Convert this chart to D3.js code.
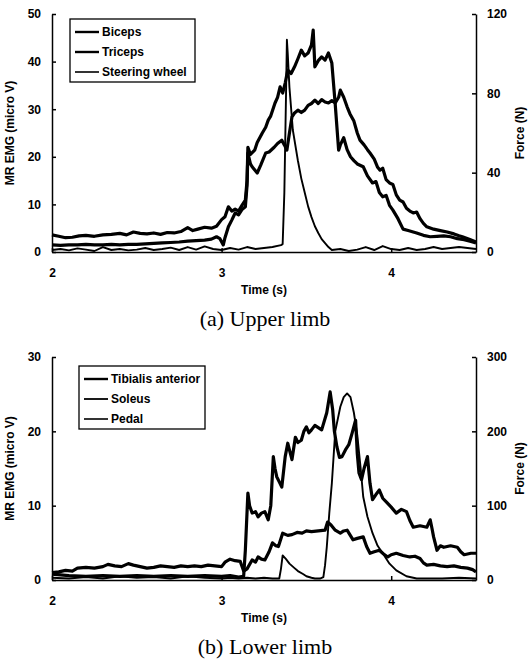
<!DOCTYPE html>
<html>
<head>
<meta charset="utf-8">
<script src="https://cdn.jsdelivr.net/npm/d3@7"></script>
<style>
  body { margin: 0; background: #fff; }
  svg { display: block; }
  .tick text, .lbl { font-family: "Liberation Sans", Arial, sans-serif; font-weight: bold; fill: #000; }
  .cap { font-family: "Liberation Serif", "Times New Roman", serif; fill: #000; }
</style>
</head>
<body>
<div id="chart"></div>
<script>
// --- data: [time (s), value] ---
const timeTicks = [2, 3, 4];

const upperEmgTicks = [0, 10, 20, 30, 40, 50];
const upperForceTicks = [0, 40, 80, 120];
const upperLegend = ['Biceps', 'Triceps', 'Steering wheel'];

const biceps = [
  [2.00, 3.6], [2.04, 3.3], [2.08, 3.0], [2.12, 3.1], [2.16, 3.4], [2.20, 3.5], [2.25, 3.3], [2.30, 3.6],
  [2.35, 3.7], [2.40, 3.9], [2.44, 3.6], [2.48, 4.2], [2.52, 3.9], [2.56, 3.8], [2.60, 4.0], [2.64, 3.7],
  [2.68, 4.1], [2.72, 4.0], [2.76, 4.3], [2.80, 5.1], [2.83, 4.5], [2.86, 4.8], [2.90, 5.2], [2.94, 5.0],
  [2.97, 5.4], [3.00, 6.8], [3.02, 7.4], [3.04, 9.5], [3.06, 8.6], [3.08, 9.0], [3.10, 8.6], [3.12, 9.8],
  [3.14, 10.9], [3.15, 15], [3.155, 22], [3.17, 20.5], [3.195, 21.4], [3.21, 23], [3.24, 25], [3.26, 26.2],
  [3.275, 27.7], [3.29, 28.6], [3.315, 31.3], [3.33, 32.5], [3.345, 34.7], [3.36, 33.4], [3.375, 35.5],
  [3.39, 38.2], [3.41, 37.5], [3.43, 38.9], [3.45, 40.6], [3.47, 42.4], [3.49, 41.2], [3.51, 41.8],
  [3.53, 43.5], [3.54, 46.6], [3.55, 38.9], [3.57, 40.2], [3.59, 41], [3.61, 40.3], [3.63, 41.8],
  [3.65, 39.7], [3.67, 31], [3.69, 21.4], [3.70, 22.5], [3.72, 24], [3.74, 21.5], [3.76, 20], [3.78, 19.2],
  [3.80, 18.5], [3.835, 17.9], [3.86, 16.0], [3.89, 14.5], [3.91, 14.8], [3.93, 12.5], [3.95, 11.6],
  [3.97, 11.9], [3.99, 9.8], [4.01, 8.8], [4.04, 7.0], [4.07, 4.8], [4.10, 4.5], [4.13, 4.2], [4.15, 4.0],
  [4.19, 3.5], [4.23, 3.2], [4.27, 3.3], [4.31, 3.4], [4.35, 3.2], [4.39, 2.8], [4.43, 2.6], [4.47, 2.2],
  [4.50, 1.9]
];

const triceps = [
  [2.00, 1.5], [2.05, 1.4], [2.10, 1.5], [2.15, 1.5], [2.20, 1.6], [2.25, 1.5], [2.30, 1.5], [2.35, 1.6],
  [2.40, 1.5], [2.45, 1.6], [2.50, 1.6], [2.55, 1.7], [2.60, 1.8], [2.65, 1.9], [2.70, 2.0], [2.75, 2.1],
  [2.80, 2.3], [2.85, 2.4], [2.90, 2.5], [2.94, 2.7], [2.97, 3.2], [2.99, 2.8], [3.01, 1.5], [3.02, 3.0],
  [3.04, 5.3], [3.06, 6.7], [3.08, 8.2], [3.10, 7.8], [3.12, 8.9], [3.14, 9.5], [3.15, 14], [3.155, 20.8],
  [3.17, 18.5], [3.18, 17.9], [3.21, 16.6], [3.23, 18.2], [3.26, 20.8], [3.28, 21], [3.31, 22], [3.33, 22.8],
  [3.355, 23.5], [3.37, 22.5], [3.385, 21.4], [3.40, 25], [3.415, 28.4], [3.43, 29.2], [3.45, 29.8],
  [3.47, 29.3], [3.49, 29.8], [3.51, 30.8], [3.53, 31.2], [3.55, 31.9], [3.57, 31.2], [3.59, 32],
  [3.61, 31.5], [3.63, 31.3], [3.65, 31.8], [3.67, 31.3], [3.69, 32.5], [3.70, 34], [3.72, 32.5],
  [3.74, 30.5], [3.757, 29], [3.78, 27.5], [3.80, 25], [3.816, 23.5], [3.84, 22.5], [3.86, 21.5],
  [3.875, 20.8], [3.90, 19.5], [3.92, 17.8], [3.934, 17.2], [3.95, 17.6], [3.97, 15.2], [3.99, 14.5],
  [4.01, 14.2], [4.03, 12.0], [4.05, 10.9], [4.07, 10.5], [4.09, 9.2], [4.11, 8.6], [4.13, 8.2],
  [4.15, 8.4], [4.17, 7.0], [4.19, 6.0], [4.21, 5.3], [4.25, 4.8], [4.29, 4.5], [4.33, 4.2], [4.37, 3.8],
  [4.40, 3.4], [4.42, 3.2], [4.46, 2.7], [4.50, 2.1]
];

const steeringForce = [
  [2.00, 1.0], [2.05, 1.5], [2.10, 0.8], [2.15, 1.8], [2.20, 1.2], [2.25, 0.5], [2.30, 2.5], [2.35, 1.0],
  [2.40, 1.5], [2.45, 0.8], [2.50, 1.2], [2.55, 2.0], [2.60, 1.0], [2.65, 1.5], [2.70, 2.2], [2.75, 1.0],
  [2.80, 2.5], [2.85, 1.2], [2.90, 2.8], [2.95, 1.5], [3.00, 1.0], [3.05, 2.0], [3.10, 1.2], [3.15, 2.5],
  [3.20, 1.5], [3.25, 2.0], [3.30, 2.5], [3.35, 3.5], [3.36, 4.0], [3.37, 30], [3.38, 80], [3.385, 107],
  [3.39, 100], [3.40, 83], [3.42, 61.5], [3.45, 46], [3.47, 37], [3.49, 30], [3.51, 23], [3.53, 17.6],
  [3.55, 13], [3.57, 9.6], [3.59, 6.5], [3.61, 4.5], [3.63, 2.5], [3.65, 1.0], [3.70, 1.5], [3.75, 0.5],
  [3.80, 1.2], [3.85, 2.5], [3.90, 1.0], [3.95, 3.0], [4.00, 1.5], [4.05, 1.0], [4.10, 2.0], [4.15, 1.0],
  [4.20, 1.5], [4.25, 2.5], [4.30, 1.5], [4.35, 2.0], [4.40, 2.5], [4.45, 2.0], [4.50, 1.5]
];

const lowerEmgTicks = [0, 10, 20, 30];
const lowerForceTicks = [0, 100, 200, 300];
const lowerLegend = ['Tibialis anterior', 'Soleus', 'Pedal'];

const tibialis = [
  [2.00, 0.8], [2.10, 0.6], [2.20, 0.5], [2.30, 0.6], [2.40, 0.5], [2.50, 0.6], [2.60, 0.5], [2.70, 0.6],
  [2.80, 0.5], [2.90, 0.6], [3.00, 0.5], [3.05, 0.6], [3.10, 0.4], [3.13, 0.5], [3.14, 4], [3.155, 11.7],
  [3.165, 10], [3.18, 9.0], [3.20, 9.2], [3.215, 8.5], [3.235, 9.0], [3.255, 9.2], [3.275, 8.1], [3.29, 10],
  [3.305, 16.6], [3.315, 15], [3.325, 13.9], [3.34, 13.2], [3.355, 12.5], [3.375, 16.6], [3.39, 18.4],
  [3.40, 17.5], [3.415, 16.2], [3.435, 19.2], [3.45, 18.5], [3.47, 18.8], [3.485, 20], [3.50, 20.6],
  [3.515, 19.8], [3.53, 20.2], [3.55, 20.8], [3.57, 20.5], [3.59, 20.2], [3.62, 22.5], [3.64, 25.3],
  [3.655, 22.9], [3.665, 20], [3.68, 17.9], [3.695, 16.5], [3.71, 16.6], [3.73, 17.5], [3.75, 18.2],
  [3.77, 19.8], [3.79, 21.5], [3.80, 17], [3.81, 14.4], [3.825, 13.5], [3.84, 15], [3.86, 16.6],
  [3.875, 13], [3.89, 10.8], [3.91, 11.5], [3.93, 12.1], [3.95, 11], [3.975, 10.4], [4.00, 9.8],
  [4.03, 9.0], [4.06, 9.5], [4.09, 9.2], [4.11, 8.0], [4.13, 7.1], [4.17, 7.3], [4.21, 7.1], [4.23, 8.1],
  [4.24, 7], [4.25, 5.8], [4.27, 4.0], [4.29, 4.6], [4.31, 4.4], [4.35, 4.6], [4.39, 4.4], [4.41, 3.8],
  [4.43, 3.4], [4.47, 3.6], [4.50, 3.6]
];

const soleus = [
  [2.00, 1.0], [2.04, 1.1], [2.08, 1.3], [2.12, 1.2], [2.15, 1.6], [2.20, 1.7], [2.25, 1.6], [2.30, 1.8],
  [2.33, 2.1], [2.37, 1.9], [2.41, 1.8], [2.45, 2.2], [2.48, 2.0], [2.52, 1.8], [2.56, 1.6], [2.60, 1.7],
  [2.64, 1.9], [2.68, 1.8], [2.72, 1.7], [2.76, 1.9], [2.80, 1.8], [2.84, 1.9], [2.88, 1.8], [2.92, 2.0],
  [2.96, 1.9], [3.00, 1.8], [3.02, 2.4], [3.05, 2.8], [3.08, 2.6], [3.11, 2.5], [3.13, 1.2], [3.15, 1.5],
  [3.18, 2.7], [3.20, 2.4], [3.215, 3.1], [3.235, 2.8], [3.255, 2.7], [3.28, 3.8], [3.30, 5.0], [3.32, 4.6],
  [3.335, 4.5], [3.36, 6.3], [3.39, 6.0], [3.415, 6.1], [3.445, 6.4], [3.475, 6.3], [3.50, 6.6],
  [3.53, 6.5], [3.57, 6.6], [3.61, 6.7], [3.625, 7.8], [3.645, 7.4], [3.67, 6.7], [3.70, 6.3], [3.72, 6.6],
  [3.74, 6.7], [3.775, 5.4], [3.80, 5.6], [3.835, 5.8], [3.855, 4.5], [3.875, 3.6], [3.90, 3.8],
  [3.93, 4.0], [3.955, 3.5], [3.98, 3.1], [4.00, 3.4], [4.03, 3.6], [4.07, 3.3], [4.11, 3.1], [4.14, 3.2],
  [4.17, 2.9], [4.19, 2.3], [4.21, 2.0], [4.25, 2.1], [4.29, 1.9], [4.33, 1.8], [4.37, 1.9], [4.41, 1.7],
  [4.45, 1.6], [4.48, 1.4], [4.50, 1.1]
];

const pedalForce = [
  [2.00, 3], [2.10, 2], [2.20, 4], [2.30, 2], [2.40, 5], [2.50, 3], [2.60, 4], [2.70, 2], [2.80, 5],
  [2.90, 3], [3.00, 2], [3.05, 3], [3.10, 2], [3.15, 3], [3.20, 2], [3.25, 3], [3.30, 2], [3.34, 2],
  [3.35, 15], [3.36, 33], [3.38, 28], [3.40, 22], [3.43, 16], [3.45, 12], [3.48, 8], [3.50, 5], [3.53, 3],
  [3.55, 2], [3.58, 2], [3.60, 4], [3.61, 20], [3.62, 44], [3.635, 90], [3.65, 130], [3.67, 200],
  [3.70, 233], [3.72, 246], [3.74, 251], [3.76, 246], [3.78, 225], [3.80, 195], [3.82, 150], [3.835, 112],
  [3.86, 85], [3.89, 63], [3.92, 46], [3.95, 36], [3.99, 22], [4.03, 13], [4.09, 5], [4.15, 2], [4.20, 2],
  [4.30, 2], [4.40, 3], [4.50, 2]
];

// --- drawing ---
const W = 530, H = 670;
const svg = d3.select('#chart').append('svg').attr('width', W).attr('height', H);

function panel(cfg) {
  const x = d3.scaleLinear().domain([2, 4.5]).range([52, 476]);
  const yL = d3.scaleLinear().domain([0, cfg.emgMax]).range([cfg.bottom, cfg.top]);
  const yR = d3.scaleLinear().domain([0, cfg.forceMax]).range([cfg.bottom, cfg.top]);
  const g = svg.append('g');

  const styleAxis = a => {
    a.selectAll('path, line').attr('stroke', '#000').attr('stroke-width', 1.5);
    a.selectAll('text').attr('font-size', 12);
  };

  g.append('g').attr('transform', `translate(0,${cfg.bottom})`)
    .call(d3.axisBottom(x).tickValues(timeTicks).tickFormat(d3.format('d'))
      .tickSizeInner(-4).tickSizeOuter(0).tickPadding(16))
    .call(styleAxis);
  g.append('g').attr('transform', 'translate(52,0)')
    .call(d3.axisLeft(yL).tickValues(cfg.emgTicks).tickSizeInner(-4).tickSizeOuter(0).tickPadding(11))
    .call(styleAxis);
  g.append('g').attr('transform', 'translate(476,0)')
    .call(d3.axisRight(yR).tickValues(cfg.forceTicks).tickSizeInner(-4).tickSizeOuter(0).tickPadding(11))
    .call(styleAxis);

  const midY = (cfg.top + cfg.bottom) / 2;
  g.append('text').attr('class', 'lbl').attr('font-size', 12).attr('text-anchor', 'middle')
    .attr('transform', `translate(14,${midY}) rotate(-90)`).text('MR EMG (micro V)');
  g.append('text').attr('class', 'lbl').attr('font-size', 12).attr('text-anchor', 'middle')
    .attr('transform', `translate(524,${midY}) rotate(-90)`).text('Force (N)');
  g.append('text').attr('class', 'lbl').attr('font-size', 12).attr('text-anchor', 'middle')
    .attr('x', 264).attr('y', cfg.bottom + 42).text('Time (s)');
  g.append('text').attr('class', 'cap').attr('font-size', 22).attr('text-anchor', 'middle')
    .attr('x', 265).attr('y', cfg.bottom + 74).text(cfg.caption);

  const lineL = d3.line().x(d => x(d[0])).y(d => yL(d[1]));
  const lineR = d3.line().x(d => x(d[0])).y(d => yR(d[1]));

  cfg.series.forEach(s => {
    g.append('path').datum(s.data)
      .attr('d', s.force ? lineR : lineL)
      .attr('fill', 'none').attr('stroke', '#000')
      .attr('stroke-width', s.width).attr('stroke-linejoin', 'round');
  });

  // legend
  const lg = g.append('g').attr('transform', `translate(${cfg.legend.x},${cfg.legend.y})`);
  lg.append('rect').attr('width', cfg.legend.w).attr('height', 63)
    .attr('fill', '#fff').attr('stroke', '#000').attr('stroke-width', 1.3);
  cfg.series.forEach((s, i) => {
    const yy = 13 + i * 20;
    lg.append('line').attr('x1', 5).attr('x2', 29).attr('y1', yy).attr('y2', yy)
      .attr('stroke', '#000').attr('stroke-width', s.legendWidth);
    lg.append('text').attr('class', 'lbl').attr('font-size', 12)
      .attr('x', 32).attr('y', yy + 4).text(s.name);
  });
}

panel({
  top: 14, bottom: 252, emgMax: 50, forceMax: 120,
  emgTicks: upperEmgTicks, forceTicks: upperForceTicks,
  caption: '(a) Upper limb',
  legend: { x: 70, y: 19, w: 125 },
  series: [
    { name: upperLegend[0], data: biceps, width: 3.2, legendWidth: 2.4 },
    { name: upperLegend[1], data: triceps, width: 3.2, legendWidth: 2.4 },
    { name: upperLegend[2], data: steeringForce, force: true, width: 1.9, legendWidth: 1.6 }
  ]
});

panel({
  top: 357, bottom: 580, emgMax: 30, forceMax: 300,
  emgTicks: lowerEmgTicks, forceTicks: lowerForceTicks,
  caption: '(b) Lower limb',
  legend: { x: 79, y: 366, w: 126 },
  series: [
    { name: lowerLegend[0], data: tibialis, width: 3.2, legendWidth: 2.4 },
    { name: lowerLegend[1], data: soleus, width: 3.2, legendWidth: 1.8 },
    { name: lowerLegend[2], data: pedalForce, force: true, width: 1.9, legendWidth: 1.6 }
  ]
});
</script>
</body>
</html>
